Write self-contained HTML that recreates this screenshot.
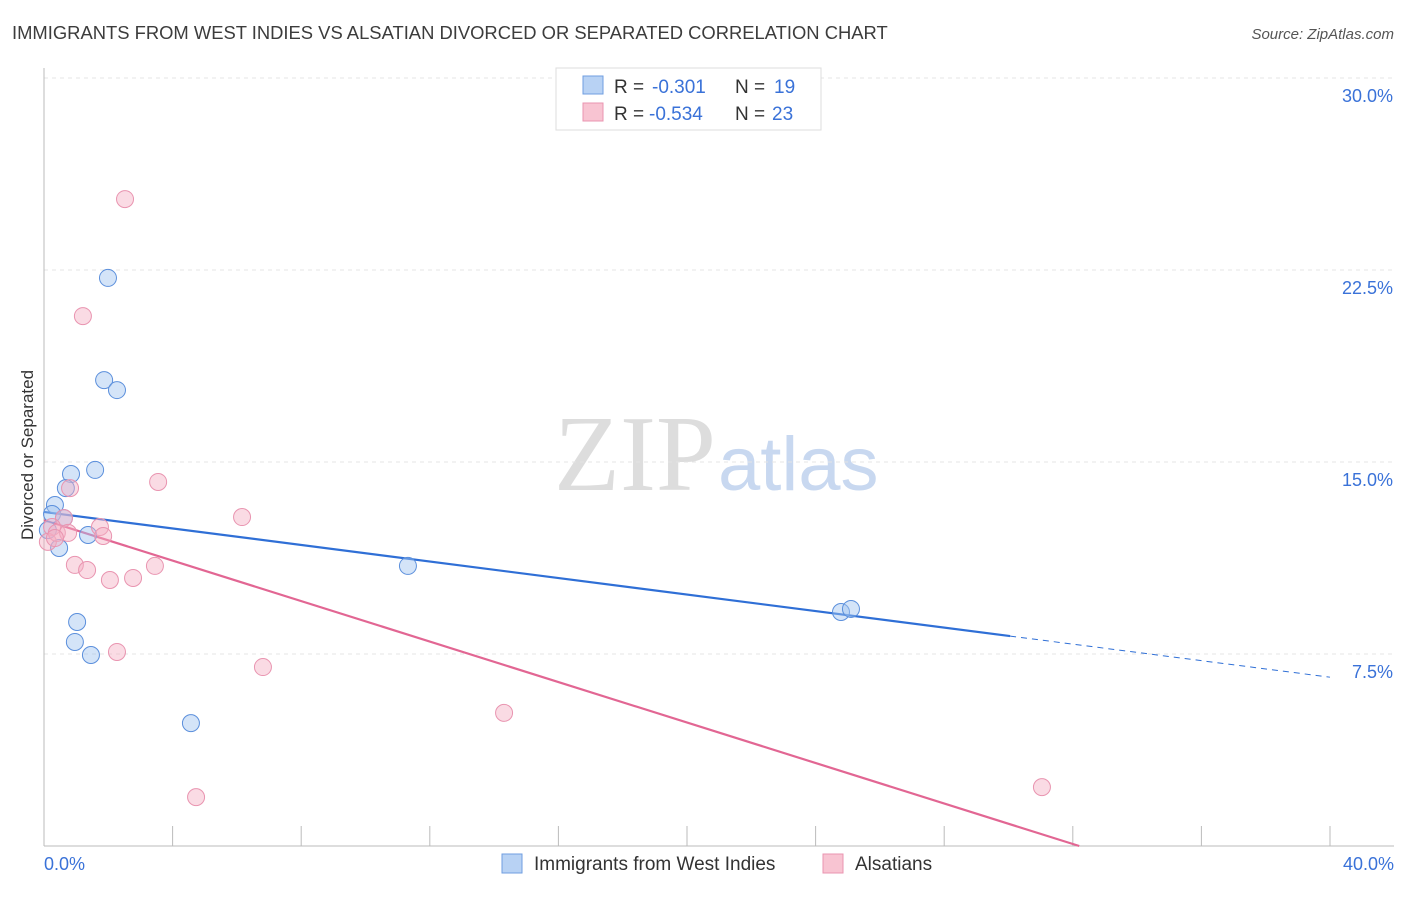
<!DOCTYPE html>
<html><head><meta charset="utf-8"><style>
body{margin:0;background:#fff;font-family:"Liberation Sans",sans-serif}
</style></head><body>
<svg id="chart" width="1406" height="892" xmlns="http://www.w3.org/2000/svg" font-family="Liberation Sans, sans-serif">
<text x="12" y="39" font-size="18.4" fill="#3c3c3c">IMMIGRANTS FROM WEST INDIES VS ALSATIAN DIVORCED OR SEPARATED CORRELATION CHART</text>
<text x="1394" y="39" font-size="15" fill="#555" text-anchor="end" font-style="italic">Source: ZipAtlas.com</text>
<text x="716" y="490" font-size="108" text-anchor="end" fill="#ddd" font-family="Liberation Serif, serif">ZIP</text>
<text x="718" y="490" font-size="76" fill="#c8d8f0">atlas</text>
<text transform="translate(33,455) rotate(-90)" font-size="17" fill="#333" text-anchor="middle">Divorced or Separated</text>
<g id="grid"></g><g id="axes"></g><g id="lines"></g><g id="points"></g>
<g>
<rect x="556" y="68" width="265" height="62" fill="#fff" stroke="#ddd"/>
<rect x="583" y="76" width="20" height="18" fill="#b8d2f4" stroke="#6f9ee0"/>
<rect x="583" y="103" width="20" height="18" fill="#f8c4d2" stroke="#ea94b0"/>
<text x="614" y="93" font-size="19" fill="#333">R =</text>
<text x="652" y="93" font-size="19" fill="#3a72d8">-0.301</text>
<text x="735" y="93" font-size="19" fill="#333">N =</text>
<text x="774" y="93" font-size="19" fill="#3a72d8">19</text>
<text x="614" y="120" font-size="19" fill="#333">R =</text>
<text x="649" y="120" font-size="19" fill="#3a72d8">-0.534</text>
<text x="735" y="120" font-size="19" fill="#333">N =</text>
<text x="772" y="120" font-size="19" fill="#3a72d8">23</text>
</g>
<g>
<rect x="502" y="854" width="20" height="19" fill="#b8d2f4" stroke="#6f9ee0"/>
<text x="534" y="870" font-size="19" fill="#333">Immigrants from West Indies</text>
<rect x="823" y="854" width="20" height="19" fill="#f8c4d2" stroke="#ea94b0"/>
<text x="855" y="870" font-size="19" fill="#333">Alsatians</text>
</g>
</svg>
<script>
const yTicks=[7.5,15,22.5,30];
const yTickLabels=["7.5%","15.0%","22.5%","30.0%"];
const xTickLabels=["0.0%","40.0%"];
const blueX=[1.99,1.87,2.27,1.59,0.84,0.68,0.34,0.25,0.62,0.12,0.47,1.37,1.03,0.96,1.46,4.57,11.32,24.79,25.10];
const blueY=[22.19,18.20,17.81,14.69,14.53,13.98,13.32,12.97,12.81,12.34,11.64,12.15,8.75,7.97,7.46,4.80,10.94,9.14,9.26];
const pinkX=[2.52,1.21,0.81,3.55,6.16,0.62,0.25,0.12,0.40,0.75,1.74,1.84,0.96,1.34,2.05,2.77,3.45,2.27,6.81,14.31,4.73,31.04,0.34];
const pinkY=[25.27,20.70,13.98,14.22,12.85,12.81,12.46,11.88,12.23,12.23,12.46,12.11,10.98,10.78,10.39,10.47,10.94,7.58,6.99,5.20,1.91,2.30,12.03];
const blueLine=[13.05,8.2,30.05,40];
const pinkLine=[12.73,32.2];
const NS="http://www.w3.org/2000/svg";
const X=v=>44+v/40*1286, Y=v=>846-v/30*768;
function mk(t,a,p){const e=document.createElementNS(NS,t);for(const k in a)e.setAttribute(k,a[k]);p.appendChild(e);return e;}
const grid=document.getElementById('grid'),axes=document.getElementById('axes'),lines=document.getElementById('lines'),pts=document.getElementById('points');
yTicks.forEach((t,i)=>{
 const l=mk('line',{x1:44,x2:1394,y1:Y(t),y2:Y(t),stroke:'#e4e4e4','stroke-dasharray':'4,4'},grid);
 
 
 const tx=mk('text',{x:1393,y:Y(t)+24,'font-size':18,fill:'#3a72d8','text-anchor':'end'},axes);
 tx.textContent=yTickLabels[i];
 
 
});
const ax=mk('line',{x1:44,x2:1394,y1:846,y2:846,stroke:'#bbb'},axes);


const ay=mk('line',{x1:44,x2:44,y1:68,y2:846,stroke:'#bbb'},axes);


for(let i=1;i<=10;i++){const tk=mk('line',{x1:X(i*4),x2:X(i*4),y1:826,y2:846,stroke:'#bbb'},axes);
 
 }
[[0,'start',44],[40,'end',1394]].forEach((d,i)=>{const t=mk('text',{x:d[2],y:870,'font-size':18,fill:'#3a72d8','text-anchor':d[1]},axes);t.textContent=xTickLabels[i];
 
 });
const slope=(blueLine[1]-blueLine[0])/blueLine[2];
let l1=mk('line',{x1:X(0),y1:Y(blueLine[0]),x2:X(blueLine[2]),y2:Y(blueLine[1]),stroke:'#2f6fd6','stroke-width':2.2},lines);


let l2=mk('line',{x1:X(blueLine[2]),y1:Y(blueLine[1]),x2:X(blueLine[3]),y2:Y(blueLine[0]+slope*blueLine[3]),stroke:'#2f6fd6','stroke-width':1,'stroke-dasharray':'6,5'},lines);


let l3=mk('line',{x1:X(0),y1:Y(pinkLine[0]),x2:X(pinkLine[1]),y2:Y(0),stroke:'#e26693','stroke-width':2.2},lines);


blueX.forEach((v,i)=>{const c=mk('circle',{cx:X(v),cy:Y(blueY[i]),r:8.5,fill:'rgba(160,195,240,0.45)',stroke:'#5b8fdc','stroke-width':1},pts);
 
 });
pinkX.forEach((v,i)=>{const c=mk('circle',{cx:X(v),cy:Y(pinkY[i]),r:8.5,fill:'rgba(245,175,195,0.45)',stroke:'#e994b0','stroke-width':1},pts);
 
 });
</script>
</body></html>
